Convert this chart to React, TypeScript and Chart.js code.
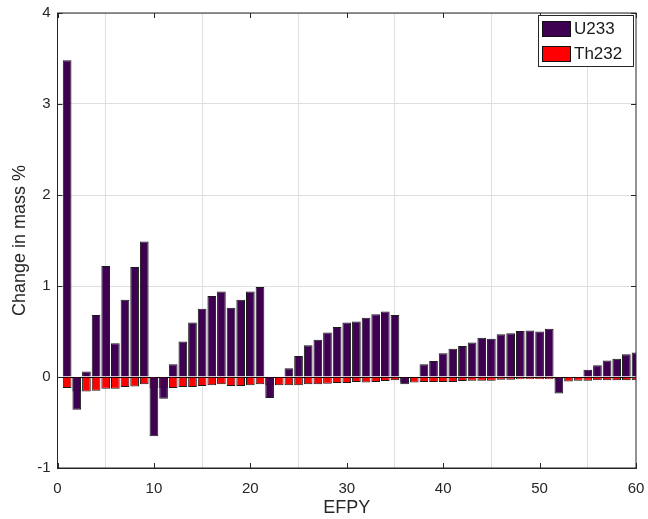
import React, { useEffect, useRef } from "react";
import { Chart, registerables } from "chart.js";

Chart.register(...registerables);

const efpy: number[] = Array.from({ length: 60 }, (_, i) => i + 1);

const u233: number[] = [
  3.48, -0.36, 0.06, 0.68, 1.22, 0.37, 0.85, 1.21, 1.49, -0.65,
  -0.24, 0.14, 0.39, 0.6, 0.75, 0.89, 0.94, 0.76, 0.85, 0.94,
  0.99, -0.23, 0.0, 0.095, 0.23, 0.35, 0.41, 0.49, 0.55, 0.6,
  0.61, 0.65, 0.69, 0.72, 0.68, -0.08, 0.0, 0.14, 0.175, 0.26,
  0.31, 0.34, 0.38, 0.43, 0.42, 0.47, 0.48, 0.505, 0.51, 0.5,
  0.53, -0.18, 0.0, 0.0, 0.08, 0.13, 0.18, 0.2, 0.25, 0.27,
];

const th232: number[] = [
  -0.12, -0.16, -0.16, -0.15, -0.13, -0.13, -0.11, -0.105, -0.08, -0.12,
  -0.12, -0.12, -0.11, -0.11, -0.1, -0.09, -0.08, -0.1, -0.1, -0.09,
  -0.08, -0.09, -0.09, -0.09, -0.09, -0.08, -0.08, -0.075, -0.065, -0.065,
  -0.055, -0.06, -0.055, -0.045, -0.035, -0.06, -0.06, -0.055, -0.055, -0.055,
  -0.055, -0.045, -0.04, -0.04, -0.04, -0.03, -0.03, -0.025, -0.025, -0.025,
  -0.025, -0.03, -0.05, -0.04, -0.04, -0.035, -0.035, -0.035, -0.035, -0.035,
];

const seriesNames = ["U233", "Th232"];
const seriesColors = ["#3e0050", "#ff0000"];

const xTitle = "EFPY";
const yTitle = "Change in mass %";

const FONT = "'Liberation Sans', Arial, sans-serif";

const framePlugin = {
  id: "frameAndLegend",
  afterDraw(chart: any) {
    const { ctx, chartArea: ca, scales } = chart;
    ctx.save();
    ctx.strokeStyle = "#262626";
    ctx.lineWidth = 1;
    ctx.strokeRect(ca.left, ca.top, ca.right - ca.left, ca.bottom - ca.top);
    const tl = 5;
    ctx.beginPath();
    scales.x.ticks.forEach((t: any) => {
      const px = Math.round(scales.x.getPixelForValue(t.value)) + 0.5;
      ctx.moveTo(px, ca.bottom);
      ctx.lineTo(px, ca.bottom - tl);
      ctx.moveTo(px, ca.top);
      ctx.lineTo(px, ca.top + tl);
    });
    scales.y.ticks.forEach((t: any) => {
      const py = Math.round(scales.y.getPixelForValue(t.value)) + 0.5;
      ctx.moveTo(ca.left, py);
      ctx.lineTo(ca.left + tl, py);
      ctx.moveTo(ca.right, py);
      ctx.lineTo(ca.right - tl, py);
    });
    ctx.stroke();

    // legend
    const bx = Math.round(ca.right) - 98;
    const by = Math.round(ca.top) + 2;
    const bw = 95;
    const bh = 51;
    ctx.fillStyle = "#ffffff";
    ctx.fillRect(bx, by, bw, bh);
    ctx.strokeStyle = "#262626";
    ctx.strokeRect(bx + 0.5, by + 0.5, bw, bh);
    ctx.font = `17px ${FONT}`;
    ctx.textBaseline = "middle";
    ctx.textAlign = "left";
    seriesNames.forEach((name, i) => {
      const sy = by + 6 + i * 25;
      ctx.fillStyle = seriesColors[i];
      ctx.fillRect(bx + 4, sy, 28, 15);
      ctx.strokeStyle = "#111111";
      ctx.strokeRect(bx + 4.5, sy + 0.5, 28, 15);
      ctx.fillStyle = "#1a1a1a";
      ctx.fillText(name, bx + 36, sy + 8.5);
    });
    ctx.restore();
  },
};

export default function App() {
  const canvasRef = useRef<HTMLCanvasElement | null>(null);

  useEffect(() => {
    if (!canvasRef.current) return;
    const chart = new Chart(canvasRef.current, {
      type: "bar",
      data: {
        datasets: [
          {
            label: seriesNames[0],
            data: efpy.map((x, i) => ({ x, y: u233[i] })),
            backgroundColor: seriesColors[0],
            borderColor: "#1a1a1a",
            borderWidth: 1,
            grouped: false,
            barPercentage: 0.9,
            categoryPercentage: 1,
          } as any,
          {
            label: seriesNames[1],
            data: efpy.map((x, i) => ({ x, y: th232[i] })),
            backgroundColor: seriesColors[1],
            borderColor: "#1a1a1a",
            borderWidth: 1,
            grouped: false,
            barPercentage: 0.9,
            categoryPercentage: 1,
          } as any,
        ],
      },
      options: {
        animation: false,
        responsive: false,
        maintainAspectRatio: false,
        layout: { padding: { top: 13, right: 12, left: 0, bottom: 0 } },
        plugins: {
          legend: { display: false },
          tooltip: { enabled: false },
        },
        scales: {
          x: {
            type: "linear",
            min: 0,
            max: 60,
            offset: false,
            ticks: {
              stepSize: 10,
              color: "#262626",
              font: { family: FONT, size: 15 },
              padding: 12,
              maxRotation: 0,
            },
            grid: { color: "#dfdfdf", drawTicks: false },
            border: { color: "#262626" },
            title: {
              display: true,
              text: xTitle,
              color: "#262626",
              font: { family: FONT, size: 18 },
              padding: { top: 0, bottom: 0 },
            },
            afterFit(scale: any) {
              scale.height = 51;
              scale.paddingLeft = 0;
              scale.paddingRight = 0;
            },
          },
          y: {
            min: -1,
            max: 4,
            ticks: {
              stepSize: 1,
              color: "#262626",
              font: { family: FONT, size: 15 },
              padding: 7,
            },
            grid: {
              color: (c: any) => (c.tick && c.tick.value === 0 ? "#000000" : "#dfdfdf"),
              drawTicks: false,
            },
            border: { color: "#262626" },
            title: {
              display: true,
              text: yTitle,
              color: "#262626",
              font: { family: FONT, size: 18 },
              padding: { top: 9, bottom: 0 },
            },
            afterFit(scale: any) {
              scale.width = 57.5;
              scale.paddingTop = 0;
              scale.paddingBottom = 0;
            },
          },
        },
      } as any,
      plugins: [framePlugin],
    });
    return () => chart.destroy();
  }, []);

  return (
    <div style={{ position: "fixed", left: 0, top: 0, width: 648, height: 519, background: "#fff" }}>
      <canvas ref={canvasRef} width={648} height={519} style={{ width: 648, height: 519, display: "block" }} />
    </div>
  );
}
